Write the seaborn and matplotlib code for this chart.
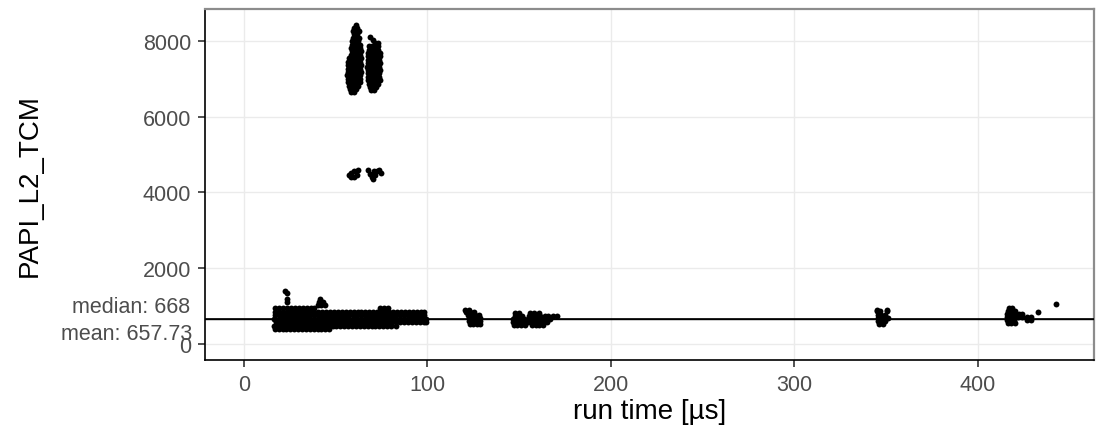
import matplotlib
matplotlib.use("Agg")
import matplotlib.pyplot as plt
import seaborn as sns
import pandas as pd

# ---- measurements: PAPI_L2_TCM counter vs. kernel run time ----
# Each cluster is stored as rows of (counter value, [run times in µs]).

main_band_rows = [
    (400, [16.9, 19.0, 21.2, 23.1, 25.3, 27.4, 29.6, 31.5, 33.7, 35.8, 38.0, 40.1, 42.2, 44.4, 46.3]),
    (490, [16.5, 18.6, 20.7, 22.9, 25.0, 27.0, 29.2, 31.3, 33.5, 35.4, 37.6, 39.8, 41.9, 44.0, 46.1,
           48.3, 50.4, 52.5, 54.6, 56.8, 58.9, 61.0, 63.1, 65.3, 67.4, 69.5, 71.6, 73.8, 75.9, 78.1,
           80.2, 82.6]),
    (580, [17.2, 19.3, 21.4, 23.6, 25.7, 27.8, 29.9, 32.1, 34.2, 36.3, 38.4, 40.6, 42.7, 44.8, 46.9,
           49.1, 51.2, 53.3, 55.4, 57.6, 59.7, 61.8, 63.9, 66.1, 68.2, 70.3, 72.4, 74.6, 76.7, 78.8,
           80.9, 83.1, 85.2, 87.3, 89.4, 91.6, 93.7, 95.8, 97.9, 99.2]),
    (670, [16.6, 18.8, 20.9, 23.0, 25.2, 27.3, 29.4, 31.6, 33.7, 35.8, 38.0, 40.1, 42.2, 44.4, 46.5,
           48.6, 50.8, 52.9, 55.0, 57.2, 59.3, 61.4, 63.6, 65.7, 67.8, 70.0, 72.1, 74.2, 76.4, 78.5,
           80.6, 82.8, 84.9, 87.0, 89.2, 91.3, 93.4, 95.6, 97.7, 99.4]),
    (760, [17.0, 19.1, 21.3, 23.4, 25.5, 27.7, 29.8, 31.9, 34.1, 36.2, 38.3, 40.5, 42.6, 44.7, 46.9,
           49.0, 51.1, 53.3, 55.4, 57.5, 59.7, 61.8, 63.9, 66.1, 68.2, 70.3, 72.5, 74.6, 76.7, 78.9,
           81.0, 83.1, 85.3, 87.4, 89.5, 91.7, 93.8, 95.9, 98.1]),
    (850, [16.7, 18.9, 21.0, 23.2, 25.3, 27.5, 29.6, 31.8, 33.9, 36.1, 38.2, 40.4, 42.5, 44.7, 46.8,
           49.0, 51.1, 53.3, 55.4, 57.6, 59.7, 61.9, 64.0, 66.2, 68.3, 70.5, 72.6, 74.8, 76.9, 79.1,
           81.2, 83.4, 85.5, 87.7, 89.8, 92.0, 94.1, 96.3, 98.4]),
    (940, [16.9, 19.0, 21.2, 23.4, 25.5, 27.7, 29.8, 32.0, 34.1, 36.3, 38.4, 74.3, 76.4, 78.6]),
    (1030, [40.2, 42.0, 44.0]),
    (1110, [41.0, 42.8]),
    (1180, [41.6]),
]

# isolated runs just above the main band
stray_time = [22.4, 23.4, 23.2, 23.6, 433.1, 442.9]
stray_tcm = [1400, 1340, 1180, 1120, 837, 1046]

high_left_rows = [
    (8430, [60.8]),
    (8350, [60.0, 61.8]),
    (8260, [59.6, 61.2, 62.6]),
    (8170, [59.8, 61.5]),
    (8080, [59.4, 61.0, 62.7]),
    (7990, [58.9, 60.6, 62.3]),
    (7900, [58.7, 60.4, 62.1, 63.4]),
    (7810, [58.4, 60.1, 61.8, 63.3]),
    (7720, [58.6, 60.3, 62.0, 63.5]),
    (7630, [58.3, 60.0, 61.7, 63.4]),
    (7540, [57.0, 58.6, 60.3, 62.0, 63.6]),
    (7450, [56.6, 58.3, 60.0, 61.7, 63.4]),
    (7360, [56.8, 58.5, 60.2, 61.9, 63.7]),
    (7270, [56.5, 58.2, 59.9, 61.6, 63.3]),
    (7180, [56.7, 58.4, 60.1, 61.8, 63.5]),
    (7090, [56.4, 58.1, 59.8, 61.5, 63.2]),
    (7000, [56.6, 58.3, 60.0, 61.7, 63.4]),
    (6910, [56.9, 58.6, 60.3, 62.0, 63.1]),
    (6810, [57.4, 59.0, 60.7, 62.4]),
    (6720, [57.8, 59.5, 61.2]),
    (6640, [58.3, 60.0]),
]

high_right_rows = [
    (8090, [68.9]),
    (8020, [70.2]),
    (7950, [71.5, 72.8]),
    (7860, [68.2, 69.8, 71.4, 73.0]),
    (7770, [68.0, 69.6, 71.2, 72.8]),
    (7680, [67.8, 69.4, 71.0, 72.6, 73.9]),
    (7590, [67.6, 69.2, 70.8, 72.4, 74.0]),
    (7500, [67.4, 69.0, 70.6, 72.2, 73.8]),
    (7410, [67.6, 69.2, 70.8, 72.4, 74.1]),
    (7320, [67.3, 68.9, 70.5, 72.1, 73.7]),
    (7230, [67.5, 69.1, 70.7, 72.3, 73.9]),
    (7140, [67.4, 69.0, 70.6, 72.2, 73.8]),
    (7050, [67.4, 69.0, 70.6, 72.2, 73.8]),
    (6960, [67.8, 69.4, 71.0, 72.6, 74.0]),
    (6870, [68.2, 69.8, 71.4, 73.0]),
    (6780, [68.6, 70.2, 71.8]),
    (6690, [69.4, 71.0]),
]

mid_time = [57.0, 58.3, 58.5, 60.0, 60.0, 61.4, 62.3,
            67.5, 68.5, 69.5, 70.2, 71.3, 72.5, 73.8, 74.5, 70.8]
mid_tcm = [4460, 4420, 4520, 4400, 4560, 4470, 4590,
           4600, 4500, 4420, 4350, 4450, 4560, 4600, 4520, 4560]

cluster_125_rows = [
    (520, [123.0, 125.0, 127.0, 128.8]),
    (600, [122.6, 124.6, 126.6, 128.9]),
    (680, [122.4, 124.4, 126.4, 128.6]),
    (760, [122.0, 124.0, 126.0, 128.2]),
    (840, [121.2, 123.2, 125.2]),
    (900, [120.5, 122.5]),
]

cluster_155_rows = [
    (500, [147.0, 149.0, 151.0, 153.0, 157.0, 159.0, 161.0, 163.0]),
    (580, [146.5, 148.5, 150.5, 152.5, 155.0, 157.0, 159.0, 161.0, 163.0, 165.0]),
    (660, [146.5, 148.5, 150.5, 152.5, 154.8, 157.0, 159.0, 161.0, 163.0, 165.0, 167.0]),
    (740, [147.5, 149.5, 151.5, 155.5, 157.5, 159.5, 161.5, 164.0, 166.0, 168.5, 170.5]),
    (820, [148.0, 150.0, 156.0, 158.0, 161.0]),
]

cluster_348_rows = [
    (540, [346.5, 348.5]),
    (620, [345.5, 347.5, 349.5]),
    (700, [345.5, 347.5, 349.5, 351.0]),
    (780, [345.5, 347.5, 349.5]),
    (860, [345.0, 347.0, 350.5]),
    (910, [345.0, 350.8]),
]

cluster_420_rows = [
    (560, [416.5, 418.5, 420.5]),
    (640, [416.0, 418.0, 420.0, 427.0, 429.0]),
    (720, [416.0, 418.0, 420.0, 422.0, 424.5, 427.0, 429.2]),
    (800, [416.2, 418.2, 420.2, 422.5, 424.5]),
    (880, [416.5, 418.5, 420.5]),
    (950, [417.0, 419.0]),
]

median_tcm = 668
mean_tcm = 657.73

x_ticks = [0, 100, 200, 300, 400]
y_ticks = [0, 2000, 4000, 6000, 8000]


def rows_to_points(rows):
    t, c = [], []
    for value, times in rows:
        t.extend(times)
        c.extend([value] * len(times))
    return t, c


run_time, tcm = [], []
for rows in (main_band_rows, high_left_rows, high_right_rows, cluster_125_rows,
             cluster_155_rows, cluster_348_rows, cluster_420_rows):
    t, c = rows_to_points(rows)
    run_time += t
    tcm += c
run_time += stray_time + mid_time
tcm += stray_tcm + mid_tcm

df = pd.DataFrame({"run_time": run_time, "PAPI_L2_TCM": tcm})

sns.set_theme(style="white")
plt.rcParams["font.family"] = ["Liberation Sans", "DejaVu Sans"]

fig = plt.figure(figsize=(10.96, 4.39), dpi=100)
ax = fig.add_axes([205 / 1096, 78 / 439, 889 / 1096, 351 / 439])

ax.set_xlim(-21.3, 463.5)
ax.set_ylim(-420, 8840)
ax.set_xticks(x_ticks)
ax.set_yticks(y_ticks)
ax.grid(True, color="#EBEBEB", linewidth=1.0)
ax.set_axisbelow(True)

sns.scatterplot(data=df, x="run_time", y="PAPI_L2_TCM", color="black",
                s=18, linewidth=0, ax=ax, zorder=3)

ax.axhline(median_tcm, color="black", linewidth=1.2, zorder=4)
ax.axhline(mean_tcm, color="black", linewidth=1.0, zorder=4)

for side in ("top", "right"):
    ax.spines[side].set_color("#8C8C8C")
    ax.spines[side].set_linewidth(1.6)
for side in ("left", "bottom"):
    ax.spines[side].set_color("black")
    ax.spines[side].set_linewidth(1.2)

ax.tick_params(axis="both", which="major", length=5, width=1.2, color="#333333",
               labelsize=15.5, labelcolor="#4D4D4D", pad=5,
               left=True, bottom=True)

ax.set_xlabel("run time [µs]", fontsize=20, color="black")
ax.set_ylabel("PAPI_L2_TCM", fontsize=20, color="black")
ax.xaxis.label.set_va("center")
ax.yaxis.label.set_va("center")
ax.xaxis.set_label_coords(0.5006, -0.145)
ax.yaxis.set_label_coords(-0.197, 0.5)

lbl = dict(xycoords=("axes fraction", "data"), textcoords="offset pixels",
           ha="right", va="center", fontsize=15.5, color="#4D4D4D")
ax.annotate(f"median: {median_tcm}", xy=(0, median_tcm), xytext=(-15, 12), **lbl)
ax.annotate(f"mean: {mean_tcm}", xy=(0, mean_tcm), xytext=(-13, -14), **lbl)

fig.savefig("out.png", dpi=100)
